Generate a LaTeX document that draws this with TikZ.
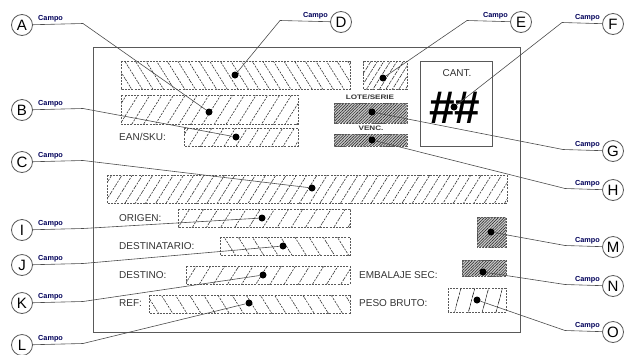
\documentclass[tikz,border=0pt]{standalone}
\usepackage{fontspec}
\setmainfont{Liberation Sans}
\usepackage{xcolor}
\usetikzlibrary{patterns.meta,positioning}

\begin{document}
\begin{tikzpicture}[
    x=1pt, y=-1pt,
    tag/.style={circle, draw=gray!70!black, line width=0.8pt, fill=white, minimum size=21pt, inner sep=0pt, font=\fontsize{15}{15}\selectfont},
    campo/.style={font=\fontsize{7.3}{8}\selectfont\bfseries, text=blue!35!black, inner sep=1pt},
    leader/.style={draw=gray!60!black, line width=0.6pt},
    dot/.style={circle, fill=black, inner sep=0pt, minimum size=7pt},
    txt/.style={font=\fontsize{10}{10}\selectfont, text=black!80, inner sep=0pt},
    small/.style={font=\fontsize{6.5}{6.5}\selectfont\bfseries, text=black!80, inner sep=0pt, xscale=1.25, transform shape},
    field/.style={draw=gray!70!black, dash pattern=on 2pt off 1.2pt, line width=0.7pt},
    fwd/.style={field, pattern={Lines[angle=58,distance=#1,line width=0.6pt]}, pattern color=gray!40!black},
    back/.style={field, pattern={Lines[angle=-58,distance=#1,line width=0.6pt]}, pattern color=gray!40!black},
    dense/.style={field, preaction={fill=gray!45}, pattern={Lines[angle=45,distance=2pt,line width=0.5pt]}, pattern color=gray!25!black}
]
\useasboundingbox (0,0) rectangle (626,354);

% label frame
\draw[gray!70!black, line width=0.8pt] (93,47) rectangle (520,332);

% fields
\draw[back=9pt] (121,61) rectangle (350,89);
\draw[fwd=5.5pt] (363,61) rectangle (407,89);
\draw[fwd=10pt] (121,95) rectangle (298,124);
\draw[fwd=10pt] (184,128) rectangle (298,146);
\draw[dense] (334,103) rectangle (407,123);
\draw[dense] (334,134) rectangle (407,146);
\draw[fwd=8.7pt] (107,175) rectangle (507,203);
\draw[fwd=12pt] (178,209) rectangle (350,227);
\draw[back=12pt] (220,237) rectangle (350,255);
\draw[fwd=12pt] (186,266) rectangle (350,284);
\draw[back=12pt] (149,295) rectangle (350,313);
\draw[dense] (477,217) rectangle (506,247);
\draw[dense] (462,260) rectangle (506,276);
\draw[field, pattern={Lines[angle=75,distance=13pt,line width=0.7pt]}, pattern color=gray!30!black] (448,288) rectangle (506,312);

% quantity box
\node[draw=gray!70!black, line width=0.8pt, minimum width=72pt, minimum height=85pt] (cant) at (456,103.5) {};
\node[txt] (canttxt) at (457,73) {CANT.};
\node[font=\fontsize{46}{46}\selectfont\bfseries, inner sep=0pt] (hash) at (455,108) {\#\#};

% field captions
\node[txt, anchor=west] (ean) at (119,137) {EAN/SKU:};
\node[small] (lote) at (370,97) {LOTE/SERIE};
\node[small] (venc) at (371,128.5) {VENC.};
\node[txt, anchor=west] (origen) at (119,218) {ORIGEN:};
\node[txt, anchor=west] (destinatario) at (119,246) {DESTINATARIO:};
\node[txt, anchor=west] (destino) at (119,275) {DESTINO:};
\node[txt, anchor=west] (ref) at (119,303) {REF:};
\node[txt, anchor=west] (embalaje) at (359,275) {EMBALAJE SEC:};
\node[txt, anchor=west] (peso) at (359,303) {PESO BRUTO:};

% dots
\node[dot] (dA) at (209,112) {};
\node[dot] (dB) at (236,137) {};
\node[dot] (dC) at (312,188) {};
\node[dot] (dD) at (235,75) {};
\node[dot] (dE) at (383,78) {};
\node[dot] (dF) at (454,107) {};
\node[dot] (dG) at (372,112) {};
\node[dot] (dH) at (372,140) {};
\node[dot] (dI) at (262,218) {};
\node[dot] (dJ) at (283,246) {};
\node[dot] (dK) at (263,275) {};
\node[dot] (dL) at (249,303) {};
\node[dot] (dM) at (491,232) {};
\node[dot] (dN) at (483,272) {};
\node[dot] (dO) at (477,300) {};

% left callouts
\foreach \n/\y in {A/25, B/110, C/162, I/230, J/265, K/303, L/345} {
    \node[tag] (c\n) at (22,\y) {\n};
    \coordinate (b\n) at (83,\y-1.5);
    \node[campo, anchor=south west] at (37,\y-2) {Campo};
    \draw[leader] (c\n) -- (b\n) -- (d\n);
}

% right callouts
\foreach \n/\y/\bx in {F/24/562, G/151/563, H/190/565, M/247/565, N/286/565, O/332/565} {
    \node[tag] (c\n) at (613,\y) {\n};
    \coordinate (b\n) at (\bx,\y-1.5);
    \node[campo, anchor=south east] at (601,\y-2) {Campo};
    \draw[leader] (c\n) -- (b\n) -- (d\n);
}

% top callouts
\foreach \n/\x/\bx in {D/341/280, E/521/467} {
    \node[tag] (c\n) at (\x,22) {\n};
    \coordinate (b\n) at (\bx,20.5);
    \node[campo, anchor=south east] at (\x-12,20) {Campo};
    \draw[leader] (c\n) -- (b\n) -- (d\n);
}

\end{tikzpicture}
\end{document}
